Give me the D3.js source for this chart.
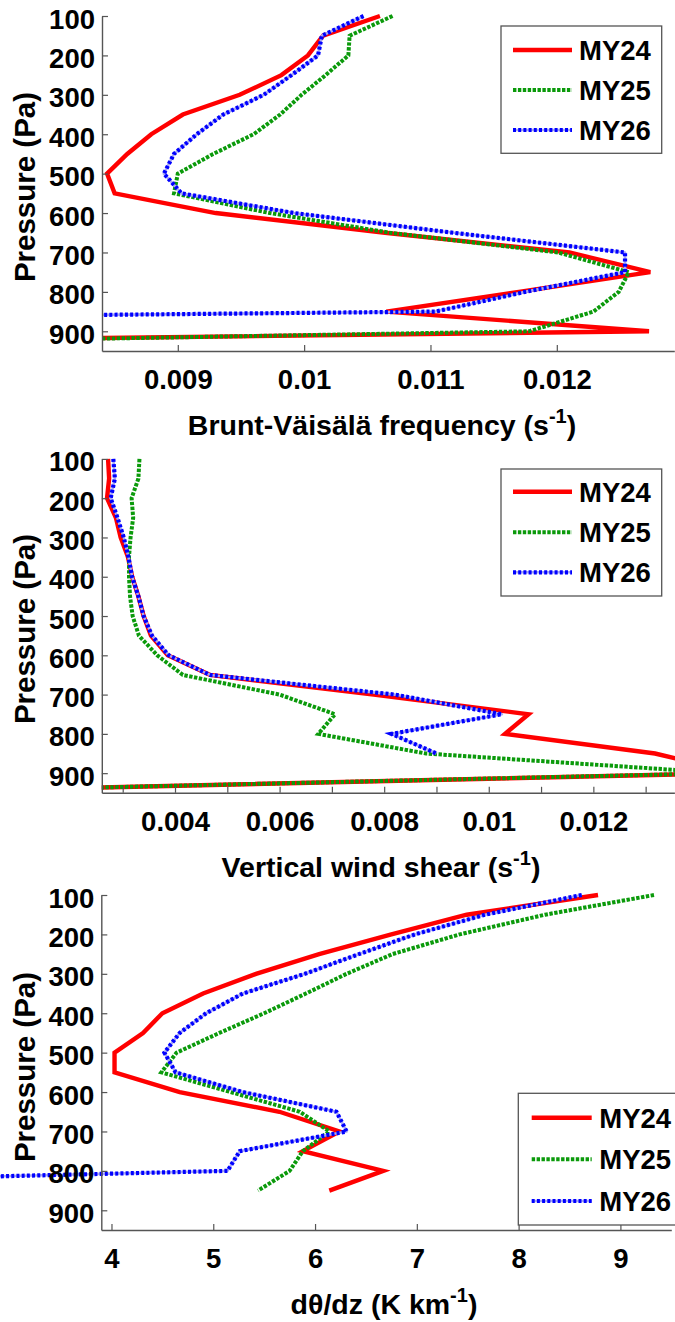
<!DOCTYPE html>
<html><head><meta charset="utf-8">
<script src="https://cdn.jsdelivr.net/npm/d3@7"></script>
<style>
body{margin:0;background:#fff}
svg text{font-family:"Liberation Sans",Arial,sans-serif;font-weight:bold;fill:#000}
</style>
</head><body>
<svg id="c" width="675" height="1322"></svg>
<script>
// ---------------- data ----------------
const seriesNames = ["MY24", "MY25", "MY26"];
const pressureTicks = [100, 200, 300, 400, 500, 600, 700, 800, 900];

// Panel 1: Brunt-Vaisala frequency (s^-1)
const bvP24 = [100,150,200,250,300,350,400,450,500,550,600,650,700,750,800,850,900,925];
const bvV24 = [0.01060,0.01015,0.01003,0.00982,0.00949,0.00904,0.00879,0.00860,0.00844,0.00850,0.00930,0.01064,0.01210,0.01274,0.01170,0.01065,0.01273,0.00640];
const bvP25 = [100,150,200,250,300,350,400,450,500,550,600,650,700,750,800,850,900,925];
const bvV25 = [0.01070,0.01036,0.01035,0.01017,0.00998,0.00981,0.00960,0.00928,0.00900,0.00897,0.00973,0.01068,0.01201,0.01257,0.01249,0.01229,0.01178,0.00723];
const bvP26 = [100,150,200,250,300,350,400,450,500,550,600,650,700,750,800,850,870];
const bvV26 = [0.01047,0.01014,0.01011,0.00990,0.00968,0.00936,0.00915,0.00897,0.00889,0.00903,0.00992,0.01118,0.01254,0.01254,0.01175,0.01104,0.00470];
const bvTicks = [0.009, 0.010, 0.011, 0.012];
const bvTickLabels = ["0.009", "0.01", "0.011", "0.012"];

// Panel 2: vertical wind shear (s^-1)
const wsP24 = [100,150,200,250,300,350,400,450,500,550,600,650,700,750,800,850,900,940];
const wsV24 = [0.00272,0.00274,0.00270,0.00287,0.00296,0.00310,0.00318,0.00330,0.00340,0.00354,0.00386,0.00467,0.00780,0.01076,0.01031,0.01318,0.01474,0.00140];
const wsP25 = [100,150,200,250,300,350,400,450,500,550,600,650,700,750,800,850,900,940];
const wsV25 = [0.00332,0.00330,0.00317,0.00320,0.00315,0.00312,0.00312,0.00314,0.00319,0.00331,0.00366,0.00415,0.00600,0.00706,0.00674,0.00880,0.01450,0.00140];
const wsP26 = [100,150,200,250,300,350,400,450,500,550,600,650,700,750,800,850];
const wsV26 = [0.00282,0.00285,0.00277,0.00290,0.00302,0.00311,0.00318,0.00330,0.00340,0.00356,0.00388,0.00467,0.00820,0.01025,0.00814,0.00900];
const wsTicks = [0.003,0.004,0.005,0.006,0.007,0.008,0.009,0.010,0.011,0.012,0.013];
const wsTickLabels = ["","0.004","","0.006","","0.008","","0.01","","0.012",""];

// Panel 3: d theta / dz (K km^-1)
const dtP24 = [100,150,200,250,300,350,400,450,500,550,600,650,700,750,800,850];
const dtV24 = [8.78,7.49,6.75,6.04,5.42,4.90,4.50,4.31,4.03,4.03,4.67,5.65,6.24,5.88,6.67,6.14];
const dtP25 = [100,150,200,250,300,350,400,450,500,550,600,650,700,750,800,850];
const dtV25 = [9.33,8.26,7.42,6.76,6.31,5.91,5.50,5.06,4.64,4.49,5.17,5.85,6.14,5.88,5.75,5.44];
const dtP26 = [100,150,200,250,300,350,400,450,500,550,600,650,700,750,800,815];
const dtV26 = [8.62,7.67,6.98,6.43,5.90,5.29,4.93,4.67,4.52,4.63,5.29,6.21,6.31,5.26,5.14,2.70];
const dtTicks = [4, 5, 6, 7, 8, 9];
const dtTickLabels = ["4", "5", "6", "7", "8", "9"];

// ---------------- drawing ----------------
const svg = d3.select("#c");
const styles = [
  {under:null, color:"#ff0000", width:4.4, dash:null},
  {under:null, color:"#0b9a0b", width:4.0, dash:"3.4,1.5"},
  {under:"#a8a8f4", color:"#0000ff", width:4.2, dash:"3,2.2"}
];

function panel(cfg, idx) {
  const g = svg.append("g");
  const x = d3.scaleLinear().domain(cfg.xDomain).range(cfg.xRange);
  const y = d3.scaleLinear().domain([100, 950]).range(cfg.yRange);

  let lineG = g.append("g");
  if (cfg.clip) {
    const id = "clip" + idx;
    svg.append("clipPath").attr("id", id).append("rect")
      .attr("x", cfg.xRange[0]).attr("y", 0).attr("width", 700).attr("height", 1322);
    lineG.attr("clip-path", `url(#${id})`);
  }
  const line = d3.line().x(d => x(d[1])).y(d => y(d[0]));
  cfg.series.forEach((s, i) => {
    const pts = s.p.map((p, k) => [p, s.v[k]]);
    const st = styles[i];
    if (st.under) lineG.append("path").attr("d", line(pts)).attr("fill","none")
      .attr("stroke", st.under).attr("stroke-width", 2.6).attr("stroke-linejoin","round");
    lineG.append("path").attr("d", line(pts)).attr("fill","none")
      .attr("stroke", st.color).attr("stroke-width", st.width)
      .attr("stroke-dasharray", st.dash).attr("stroke-linejoin","miter");
  });

  // axes
  const ya = g.append("g").attr("transform", `translate(${cfg.xRange[0]},0)`)
    .call(d3.axisLeft(y).tickValues(pressureTicks).tickSize(-6).tickSizeOuter(0).tickPadding(7));
  ya.selectAll("text").attr("dy", null).attr("y", 12).style("font-size","27.5px");
  const xa = g.append("g").attr("transform", `translate(0,${cfg.yRange[1]})`)
    .call(d3.axisBottom(x).tickValues(cfg.ticks).tickSize(-6).tickSizeOuter(0)
      .tickFormat((d, k) => cfg.tickLabels[k]));
  xa.selectAll("text").attr("dy", null).attr("y", 38).style("font-size","27.5px");
  [ya, xa].forEach(a => {
    a.attr("font-family", null).attr("font-size", null);
    a.select(".domain").attr("stroke", "#555").attr("stroke-width", 1.4);
    a.selectAll(".tick line").attr("stroke", "#555").attr("stroke-width", 1.2);
  });

  // y title
  g.append("text").attr("transform", `translate(35,${cfg.yLabelY}) rotate(-90)`)
    .attr("text-anchor","middle").style("font-size","29.5px").text("Pressure (Pa)");
  // x title with superscript
  const t = g.append("text").attr("x", cfg.titleX).attr("y", cfg.yRange[1] + 84)
    .attr("text-anchor","middle").style("font-size","28.5px");
  t.append("tspan").text(cfg.title);
  t.append("tspan").attr("dy", -12).style("font-size","20px").text("-1");
  t.append("tspan").attr("dy", 12).style("font-size","28.5px").text(")");

  // legend
  const L = cfg.legend;
  g.append("rect").attr("x", L.x0).attr("y", L.y0).attr("width", L.w).attr("height", L.h)
    .attr("fill","#fff").attr("stroke","#555").attr("stroke-width",1.3);
  seriesNames.forEach((name, i) => {
    const ry = L.rows[i];
    const st = styles[i];
    if (st.under) g.append("line").attr("x1", L.lx0).attr("x2", L.lx1).attr("y1", ry).attr("y2", ry)
      .attr("stroke", st.under).attr("stroke-width", 2.6);
    g.append("line").attr("x1", L.lx0).attr("x2", L.lx1).attr("y1", ry).attr("y2", ry)
      .attr("stroke", st.color).attr("stroke-width", st.width).attr("stroke-dasharray", st.dash);
    g.append("text").attr("x", L.tx).attr("y", ry + 10).style("font-size","27.5px").text(name);
  });
}

panel({
  xDomain: [0.0084, 0.01293], xRange: [102, 674.3], yRange: [16, 351], clip: true,
  series: [{p: bvP24, v: bvV24}, {p: bvP25, v: bvV25}, {p: bvP26, v: bvV26}],
  ticks: bvTicks, tickLabels: bvTickLabels,
  title: "Brunt-Väisälä frequency (s", titleX: 382, yLabelY: 187,
  legend: {x0: 501, y0: 26, w: 160.7, h: 127.3, lx0: 513, lx1: 572, tx: 579, rows: [50, 90, 130]}
}, 1);

panel({
  xDomain: [0.0026, 0.01355], xRange: [101.8, 674.4], yRange: [458.9, 792.8], clip: true,
  series: [{p: wsP24, v: wsV24}, {p: wsP25, v: wsV25}, {p: wsP26, v: wsV26}],
  ticks: wsTicks, tickLabels: wsTickLabels,
  title: "Vertical wind shear (s", titleX: 381, yLabelY: 629,
  legend: {x0: 501, y0: 469, w: 160.7, h: 127, lx0: 513, lx1: 572, tx: 579, rows: [491.7, 532.3, 572.3]}
}, 2);

panel({
  xDomain: [3.9, 9.5], xRange: [101.3, 671.3], yRange: [895, 1230], clip: false,
  series: [{p: dtP24, v: dtV24}, {p: dtP25, v: dtV25}, {p: dtP26, v: dtV26}],
  ticks: dtTicks, tickLabels: dtTickLabels,
  title: "dθ/dz (K km", titleX: 384, yLabelY: 1067,
  legend: {x0: 518.3, y0: 1093.3, w: 170, h: 131.7, lx0: 531.7, lx1: 591.7, tx: 599.3, rows: [1117.7, 1159.3, 1201]}
}, 3);
</script>
</body></html>
